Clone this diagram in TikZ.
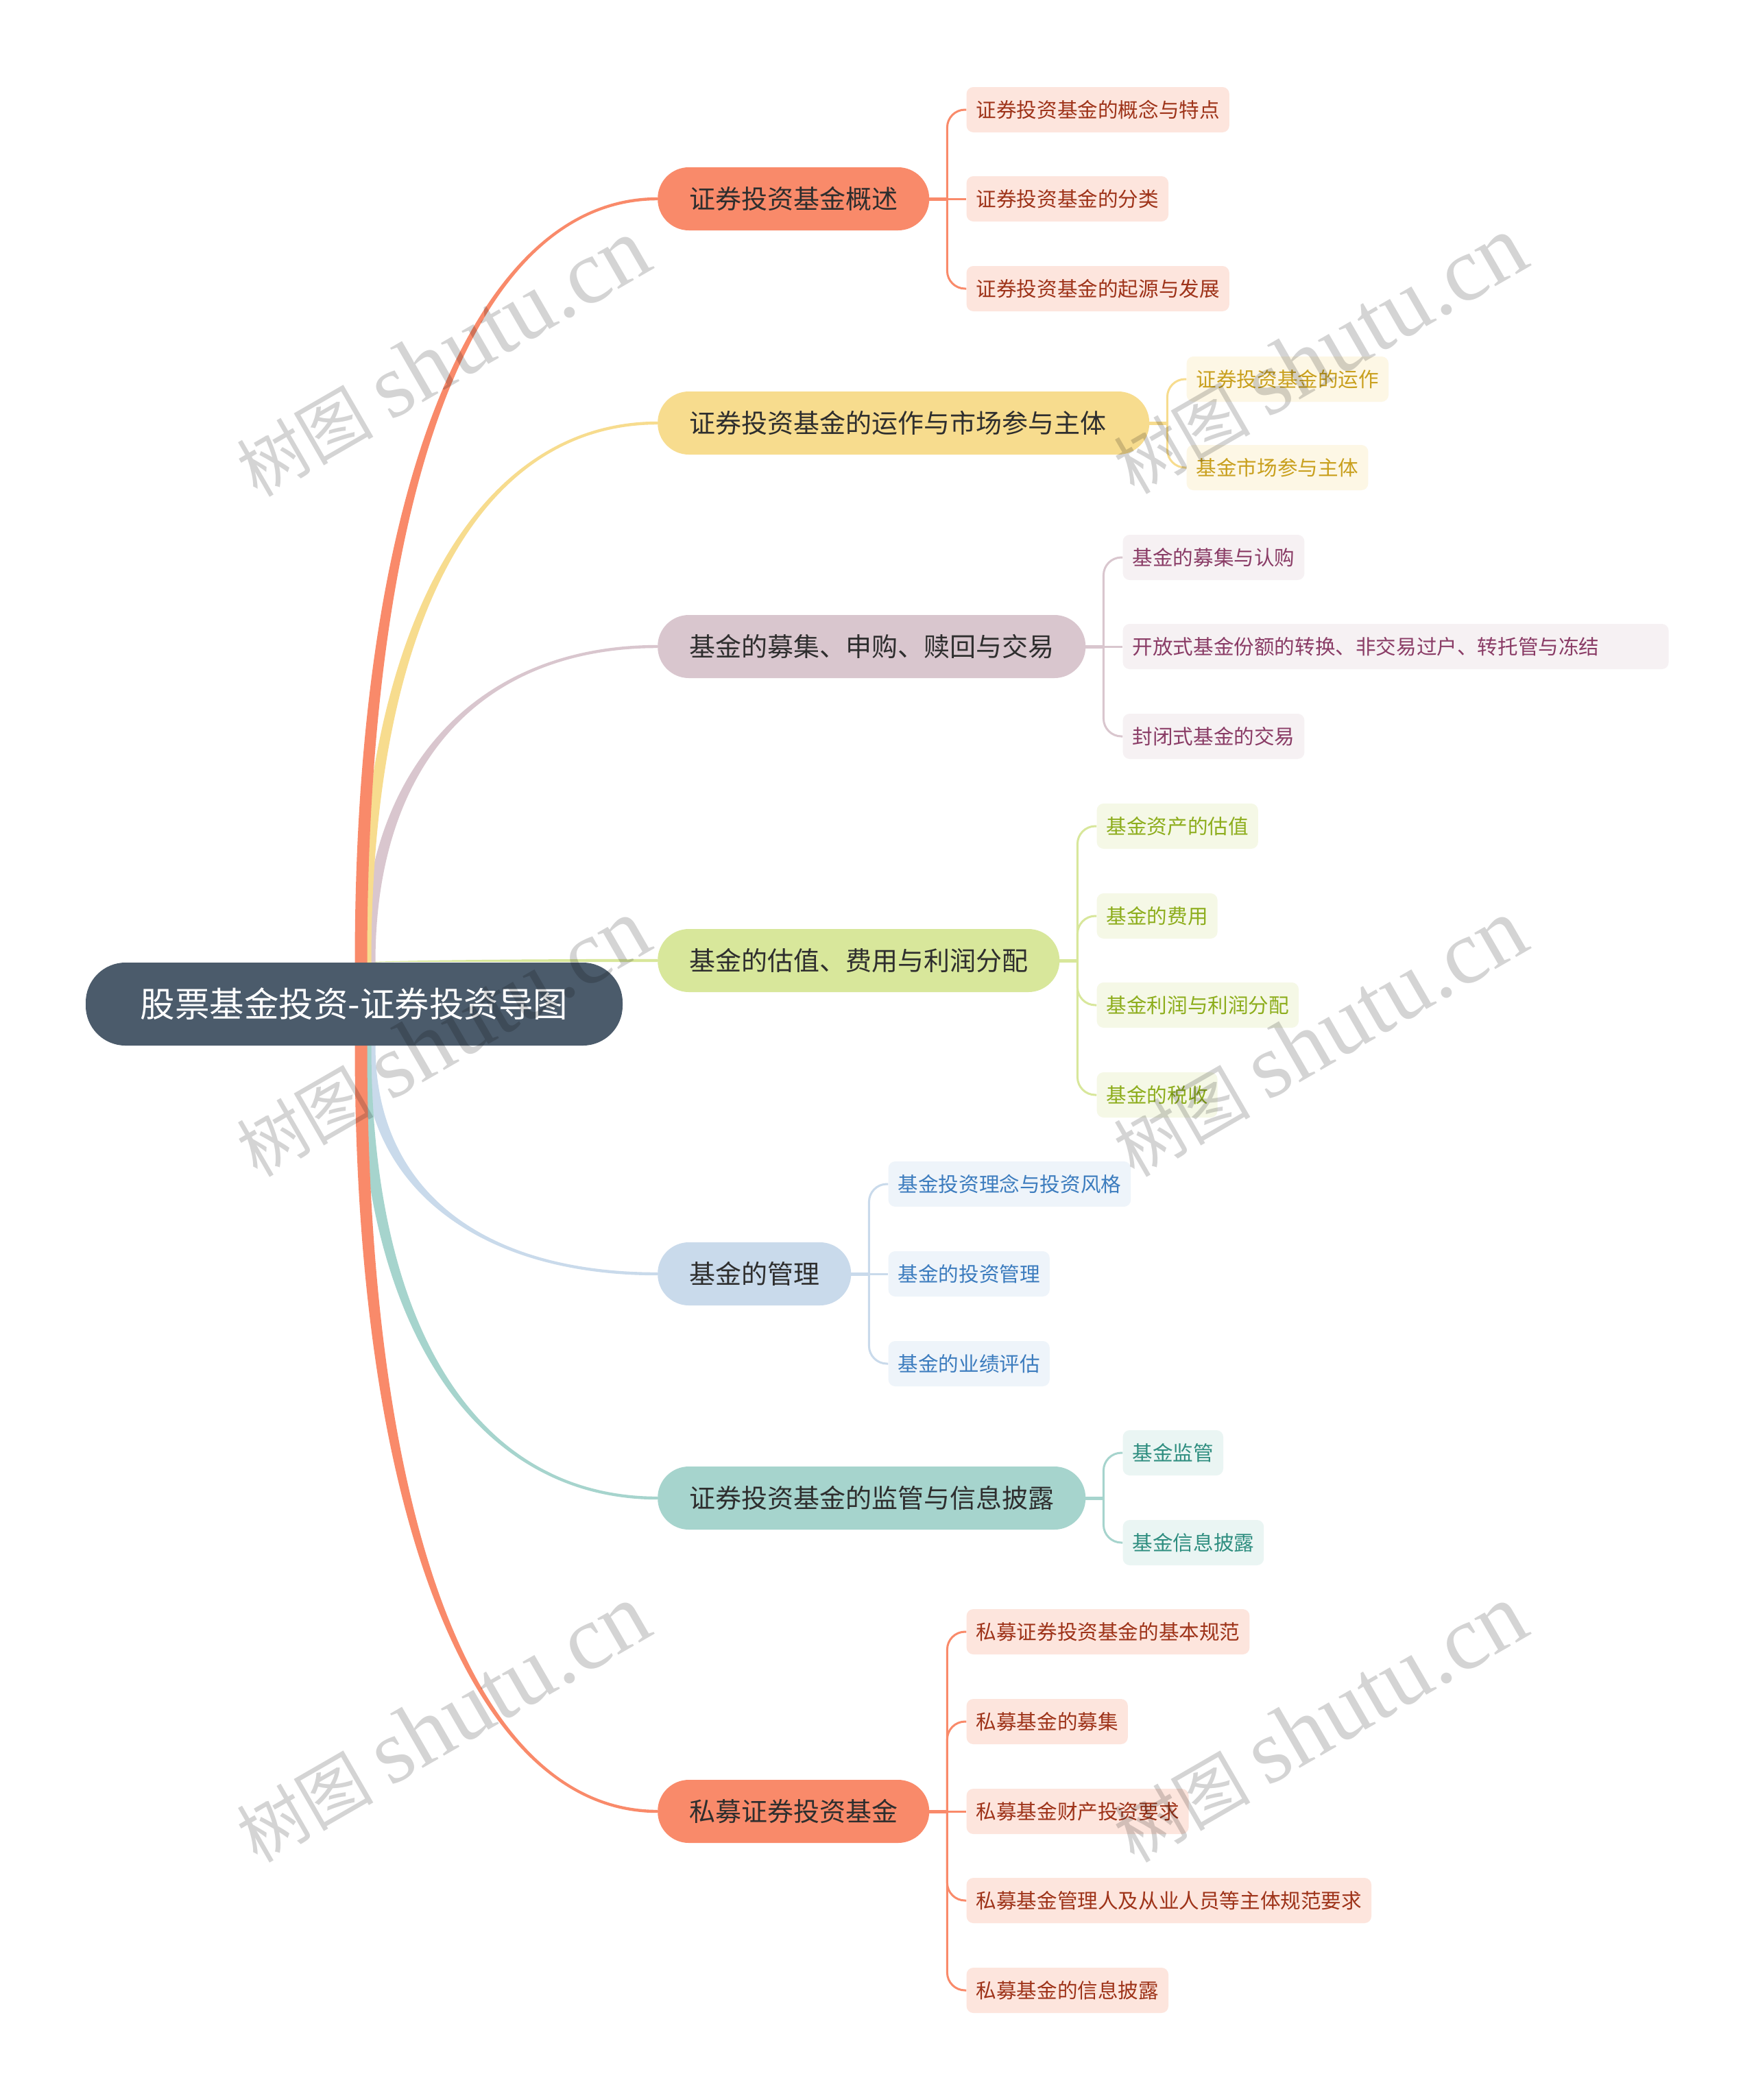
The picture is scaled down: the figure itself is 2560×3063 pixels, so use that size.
\documentclass[tikz,border=0pt]{standalone}
\usepackage{fontspec}
\setmainfont{Noto Sans CJK SC}
\newfontfamily\wmserif{Liberation Serif}
\usetikzlibrary{calc,backgrounds}
\definecolor{rootc}{HTML}{4B5B6B}
\definecolor{cA}{HTML}{F98A6A}
\definecolor{cAl}{HTML}{FDE5DD}
\definecolor{cAt}{HTML}{9E3319}
\definecolor{cB}{HTML}{F7DC8E}
\definecolor{cBl}{HTML}{FDF7E5}
\definecolor{cBt}{HTML}{C9A01E}
\definecolor{cC}{HTML}{D9C6CE}
\definecolor{cCl}{HTML}{F6F1F3}
\definecolor{cCt}{HTML}{8A3C66}
\definecolor{cD}{HTML}{D8E79B}
\definecolor{cDl}{HTML}{F5F8E6}
\definecolor{cDt}{HTML}{8DAD1C}
\definecolor{cE}{HTML}{C9DAEB}
\definecolor{cEl}{HTML}{EEF4FA}
\definecolor{cEt}{HTML}{3C7CBE}
\definecolor{cF}{HTML}{A6D4CD}
\definecolor{cFl}{HTML}{EAF5F3}
\definecolor{cFt}{HTML}{2F8E80}
\definecolor{btext}{HTML}{2E2E2E}
\tikzset{
 rootbox/.style={fill=rootc, text=white, rounded corners=58pt, minimum width=783pt, minimum height=121pt, inner sep=0pt, font=\fontsize{50.5}{60}\selectfont},
 mainbox/.style={fill=#1, text=btext, rounded corners=45.5pt, minimum height=92pt, inner xsep=46pt, inner ysep=0pt, anchor=west, font=\fontsize{38}{46}\selectfont},
 leafbox/.style 2 args={fill=#1, text=#2, rounded corners=10pt, minimum height=66pt, inner xsep=14pt, inner ysep=0pt, anchor=west, font=\fontsize{29.6}{36}\selectfont},
 hstem/.style={draw=#1, line width=5pt},
 leafline/.style={draw=#1, line width=3pt, rounded corners=26pt},
 wm/.style={text=black, text opacity=0.17, rotate=30, inner sep=0pt}
}
\newcommand{\taperline}[3]{%
 \fill[#1] let \p0=(#2), \p1=(#3.west), \n1={sign(\y1-\y0)} in
  ({\x0-9pt},\y0) .. controls ({\x0-9pt},{\y0+0.62*(\y1-\y0)}) and ({\x0+0.38*(\x1-\x0)},{\y1+2.2pt*\n1}) .. (\x1,{\y1+2.2pt*\n1})
  -- (\x1,{\y1-2.2pt*\n1}) .. controls ({\x0+0.38*(\x1-\x0)},{\y1-2.2pt*\n1}) and ({\x0+9pt},{\y0+0.62*(\y1-\y0)}) .. ({\x0+9pt},\y0) -- cycle;
}
\newcommand{\wmtext}{\fontsize{100}{100}\selectfont 树图\hspace{25pt}{\wmserif\fontsize{133}{133}\selectfont shutu.cn}}
\begin{document}
\begin{tikzpicture}[x=1pt,y=-1pt]
\useasboundingbox (0,0) rectangle (2560,3063);

% root
\node[rootbox] (R) at (516.5,1464.5) {股票基金投资-证券投资导图};
\coordinate (ru1) at ([xshift=10pt]R.north);
\coordinate (ru2) at ([xshift=16pt]R.north);
\coordinate (ru3) at ([xshift=22pt]R.north);
\coordinate (ru4) at ([xshift=22pt]R.north);
\coordinate (rd1) at ([xshift=10pt]R.south);
\coordinate (rd2) at ([xshift=16pt]R.south);
\coordinate (rd3) at ([xshift=22pt]R.south);

% main branches
\node[mainbox=cA] (B1) at (959,290) {证券投资基金概述};
\node[mainbox=cB, text width=625pt, align=left] (B2) at (959,617) {证券投资基金的运作与市场参与主体};
\node[mainbox=cC] (B3) at (959,943) {基金的募集、申购、赎回与交易};
\node[mainbox=cD] (B4) at (959,1401) {基金的估值、费用与利润分配};
\node[mainbox=cE] (B5) at (959,1858) {基金的管理};
\node[mainbox=cF] (B6) at (959,2185) {证券投资基金的监管与信息披露};
\node[mainbox=cA] (B7) at (959,2642) {私募证券投资基金};

% leaves
\node[leafbox={cAl}{cAt}] (L11) at ($(B1.east)+(54,-130)$) {证券投资基金的概念与特点};
\node[leafbox={cAl}{cAt}] (L12) at ($(B1.east)+(54,0)$) {证券投资基金的分类};
\node[leafbox={cAl}{cAt}] (L13) at ($(B1.east)+(54,131)$) {证券投资基金的起源与发展};

\node[leafbox={cBl}{cBt}] (L21) at ($(B2.east)+(54,-64)$) {证券投资基金的运作};
\node[leafbox={cBl}{cBt}] (L22) at ($(B2.east)+(54,65)$) {基金市场参与主体};

\node[leafbox={cCl}{cCt}] (L31) at ($(B3.east)+(54,-130)$) {基金的募集与认购};
\node[leafbox={cCl}{cCt}, text width=768pt, align=left] (L32) at ($(B3.east)+(54,0)$) {开放式基金份额的转换、非交易过户、转托管与冻结};
\node[leafbox={cCl}{cCt}] (L33) at ($(B3.east)+(54,131)$) {封闭式基金的交易};

\node[leafbox={cDl}{cDt}] (L41) at ($(B4.east)+(54,-196)$) {基金资产的估值};
\node[leafbox={cDl}{cDt}] (L42) at ($(B4.east)+(54,-65)$) {基金的费用};
\node[leafbox={cDl}{cDt}] (L43) at ($(B4.east)+(54,65)$) {基金利润与利润分配};
\node[leafbox={cDl}{cDt}] (L44) at ($(B4.east)+(54,196)$) {基金的税收};

\node[leafbox={cEl}{cEt}] (L51) at ($(B5.east)+(54,-131)$) {基金投资理念与投资风格};
\node[leafbox={cEl}{cEt}] (L52) at ($(B5.east)+(54,0)$) {基金的投资管理};
\node[leafbox={cEl}{cEt}] (L53) at ($(B5.east)+(54,131)$) {基金的业绩评估};

\node[leafbox={cFl}{cFt}] (L61) at ($(B6.east)+(54,-66)$) {基金监管};
\node[leafbox={cFl}{cFt}] (L62) at ($(B6.east)+(54,65)$) {基金信息披露};

\node[leafbox={cAl}{cAt}] (L71) at ($(B7.east)+(54,-262)$) {私募证券投资基金的基本规范};
\node[leafbox={cAl}{cAt}] (L72) at ($(B7.east)+(54,-131)$) {私募基金的募集};
\node[leafbox={cAl}{cAt}] (L73) at ($(B7.east)+(54,0)$) {私募基金财产投资要求};
\node[leafbox={cAl}{cAt}] (L74) at ($(B7.east)+(54,130)$) {私募基金管理人及从业人员等主体规范要求};
\node[leafbox={cAl}{cAt}] (L75) at ($(B7.east)+(54,261)$) {私募基金的信息披露};

% stem coordinates
\coordinate (S1) at ($(B1.east)+(26,0)$);
\coordinate (S2) at ($(B2.east)+(26,0)$);
\coordinate (S3) at ($(B3.east)+(26,0)$);
\coordinate (S4) at ($(B4.east)+(26,0)$);
\coordinate (S5) at ($(B5.east)+(26,0)$);
\coordinate (S6) at ($(B6.east)+(26,0)$);
\coordinate (S7) at ($(B7.east)+(26,0)$);

\begin{scope}[on background layer]
\fill[white] (0,0) rectangle (2560,3063);
% root-to-branch connectors
\taperline{cD}{ru4}{B4}
\taperline{cC}{ru3}{B3}
\taperline{cB}{ru2}{B2}
\taperline{cA}{ru1}{B1}
\taperline{cE}{rd3}{B5}
\taperline{cF}{rd2}{B6}
\taperline{cA}{rd1}{B7}
% branch-to-leaf connectors
\draw[hstem=cA] (B1.east) -- (S1);
\draw[leafline=cA] (S1) |- (L11.west);
\draw[leafline=cA] (S1) -- (L12.west);
\draw[leafline=cA] (S1) |- (L13.west);
\draw[hstem=cB] (B2.east) -- (S2);
\draw[leafline=cB] (S2) |- (L21.west);
\draw[leafline=cB] (S2) |- (L22.west);
\draw[hstem=cC] (B3.east) -- (S3);
\draw[leafline=cC] (S3) |- (L31.west);
\draw[leafline=cC] (S3) -- (L32.west);
\draw[leafline=cC] (S3) |- (L33.west);
\draw[hstem=cD] (B4.east) -- (S4);
\draw[leafline=cD] (S4) |- (L41.west);
\draw[leafline=cD] (S4) |- (L42.west);
\draw[leafline=cD] (S4) |- (L43.west);
\draw[leafline=cD] (S4) |- (L44.west);
\draw[hstem=cE] (B5.east) -- (S5);
\draw[leafline=cE] (S5) |- (L51.west);
\draw[leafline=cE] (S5) -- (L52.west);
\draw[leafline=cE] (S5) |- (L53.west);
\draw[hstem=cF] (B6.east) -- (S6);
\draw[leafline=cF] (S6) |- (L61.west);
\draw[leafline=cF] (S6) |- (L62.west);
\draw[hstem=cA] (B7.east) -- (S7);
\draw[leafline=cA] (S7) |- (L71.west);
\draw[leafline=cA] (S7) |- (L72.west);
\draw[leafline=cA] (S7) -- (L73.west);
\draw[leafline=cA] (S7) |- (L74.west);
\draw[leafline=cA] (S7) |- (L75.west);
\end{scope}

% watermarks
\node[wm] (W1) at (645,522) {\wmtext};
\node[wm] (W2) at (1924,518) {\wmtext};
\node[wm] (W3) at (645,1514) {\wmtext};
\node[wm] (W4) at (1924,1514) {\wmtext};
\node[wm] (W5) at (645,2514) {\wmtext};
\node[wm] (W6) at (1924,2514) {\wmtext};
\end{tikzpicture}
\end{document}
